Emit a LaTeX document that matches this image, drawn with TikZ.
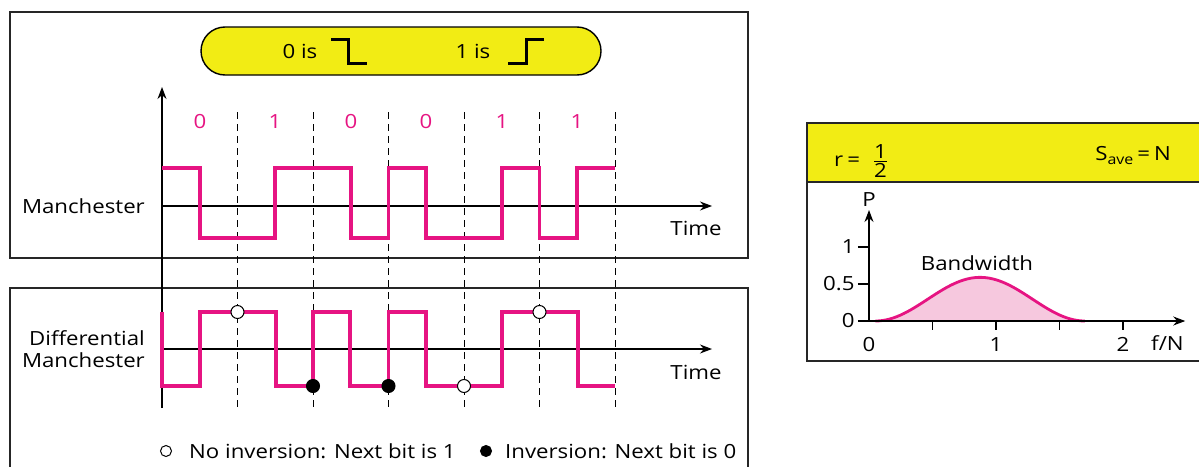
\documentclass[tikz,border=0pt]{standalone}
\usepackage{fontspec}
\setmainfont{Open Sans}[FakeStretch=1.14]
\usetikzlibrary{arrows.meta}
\definecolor{sigpink}{RGB}{230,20,130}
\definecolor{boxyellow}{RGB}{242,236,20}
\definecolor{fillpink}{RGB}{246,200,222}
\begin{document}
\begin{tikzpicture}[x=1pt,y=-1pt,
  frame/.style={draw=black!85, line width=1.4pt},
  sig/.style={draw=sigpink, line width=3.3pt},
  bitline/.style={line width=1pt, dash pattern=on 7pt off 5pt},
  axis/.style={line width=1.1pt},
  arr/.style={axis, -{Stealth[length=12pt,width=9pt]}},
  lbl/.style={font=\fontsize{19.5}{22.5}\selectfont, inner sep=0pt},
  bit/.style={lbl, text=sigpink},
  open/.style={circle, draw, fill=white, line width=1pt, minimum size=13pt, inner sep=0pt},
  closed/.style={open, fill=black},
  pill/.style={draw, line width=1.4pt, fill=boxyellow, rounded corners=24pt, minimum width=400pt, minimum height=48pt}]
\useasboundingbox (0,0) rectangle (1199,466);

% frames of the left part
\draw[frame] (10,12) rectangle (748,258);
\draw[frame] (10,470) -- (10,288) -- (748,288) -- (748,470);

% code rule
\node[pill] (rule) at (401,51) {};
\node[lbl] (zerois) at (300,51) {0 is};
\node[lbl] (oneis) at (473,51) {1 is};
\draw[line width=3pt] (331,39) -- (348,39) -- (348,63) -- (367,63);
\draw[line width=3pt] (508,63) -- (526,63) -- (526,39) -- (544,39);

% axes
\coordinate (vbot) at (162,408);
\coordinate (vtop) at (162,87);
\coordinate (mstart) at (162,206);
\coordinate (mend) at (712,206);
\coordinate (dstart) at (162,349);
\coordinate (dend) at (712,349);
\draw[arr] (vbot) -- (vtop);
\draw[arr] (mstart) -- (mend);
\draw[arr] (dstart) -- (dend);

% bit boundaries
\foreach \x in {237.5,313,388.5,464,539.5,615}
  \draw[bitline] (\x,112) -- (\x,408);
\foreach \b/\x [count=\i] in {0/200,1/275,0/351,0/426,1/502,1/577}
  \node[bit] (bit\i) at (\x,122) {\b};

% Manchester
\draw[sig] (162,168) -| (200,238) -| (275,168) -| (351,238) -| (388.5,168) -| (426,238)
  -| (502,168) -| (539.5,238) -| (577,168) -- (615,168);
% Differential Manchester
\draw[sig] (162,312) -- (162,386) -| (200,312) -| (276,386) -| (313,312) -| (350,386)
  -| (388.5,312) -| (426,386) -| (502,312) -| (578,386) -- (615,386);
\node[open] (keep1) at (237.5,312) {};
\node[closed] (flip1) at (313,386) {};
\node[closed] (flip2) at (388.5,386) {};
\node[open] (keep2) at (464,386) {};
\node[open] (keep3) at (539.5,312) {};

\node[lbl, anchor=east] (manlbl) at (145,206) {Manchester};
\node[lbl, anchor=east, align=right] (difflbl) at (145,349) {Differential\\Manchester};
\node[lbl] (time1) at (696,228) {Time};
\node[lbl] (time2) at (696,372) {Time};

% legend
\node[open, minimum size=11pt] (legopen) at (166,451) {};
\node[lbl, anchor=west] (legopentxt) at (189,451) {No inversion: Next bit is 1};
\node[closed, minimum size=11pt] (legclosed) at (486,451) {};
\node[lbl, anchor=west] (legclosedtxt) at (505,451) {Inversion: Next bit is 0};

% right part
\fill[boxyellow] (807,123) rectangle (1205,182);
\draw[frame] (1205,123) -- (807,123) -- (807,361) -- (1205,361);
\draw[frame] (807,182) -- (1205,182);
\node[lbl, anchor=base west] (rate) at (834,166) {r\hspace{4pt}=};
\node[lbl, anchor=base] (num) at (880.5,158) {1};
\node[lbl, anchor=base] (den) at (880.5,177) {2};
\draw[line width=1.1pt] (874,161.5) -- (887,161.5);
\node[lbl, anchor=base east] (save) at (1171,160)
  {S\raisebox{-0.45ex}{\fontsize{14}{16}\selectfont ave}\hspace{4pt}=\hspace{4pt}N};

\begin{scope}[shift={(869,321)}, x=127pt, y=74pt]
\fill[fillpink] (0.05,0) -- plot[domain=0.05:1.7, samples=60] (\x,{0.59*pow(sin(180*(\x-0.05)/1.65),2)}) -- (1.7,0) -- cycle;
\draw[sigpink, line width=2.8pt] plot[domain=0.05:1.7, samples=60] (\x,{0.59*pow(sin(180*(\x-0.05)/1.65),2)});
\coordinate (orig) at (0,0);
\coordinate (ptip) at (0,1.5);
\coordinate (ftip) at (2.49,0);
\draw[arr] (orig) -- (ptip);
\draw[arr] (orig) -- (ftip);
\foreach \v in {0,0.5,1}
  \draw[axis] (-0.087,\v) -- (0,\v) node[lbl, anchor=east, xshift=-14pt] (ylab\v) {\v};
\foreach \u in {0.5,1,1.5,2}
  \draw[axis] (\u,0) -- (\u,-0.12);
\foreach \u in {0,1,2}
  \node[lbl] (xlab\u) at (\u,-0.32) {\u};
\node[lbl] (flab) at (2.35,-0.3) {f/N};
\node[lbl] (plab) at (0,1.64) {P};
\node[lbl] (bw) at (0.85,0.78) {Bandwidth};
\end{scope}
\end{tikzpicture}
\end{document}
